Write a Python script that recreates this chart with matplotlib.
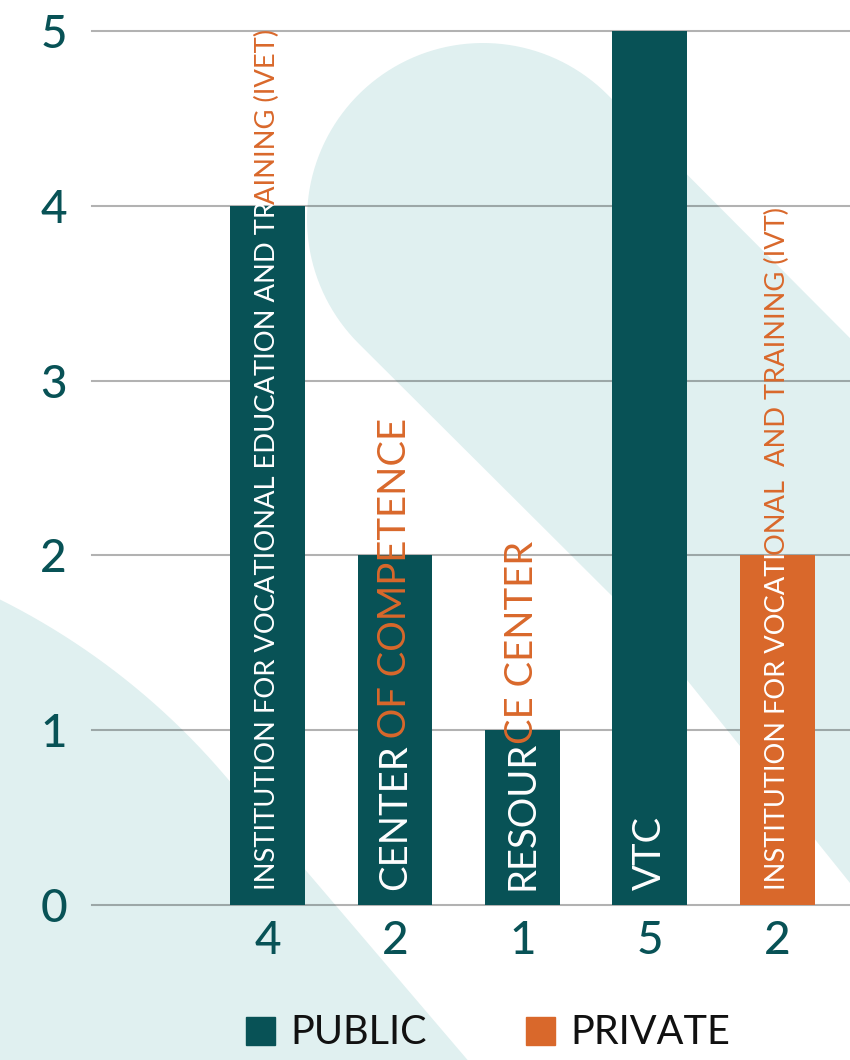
import matplotlib
matplotlib.use("agg")
import matplotlib.pyplot as plt
import numpy as np
from matplotlib.patches import Patch, Polygon

# bar labels, sector of each institution type and the counts
categories = [
    "INSTITUTION FOR VOCATIONAL EDUCATION AND TRAINING (IVET)",
    "CENTER OF COMPETENCE",
    "RESOURCE CENTER",
    "VTC",
    "INSTITUTION FOR VOCATIONAL  AND TRAINING (IVT)",
]
sectors = ["PUBLIC", "PUBLIC", "PUBLIC", "PUBLIC", "PRIVATE"]
counts = [4, 2, 1, 5, 2]
# leading characters of each label printed in white, the rest is orange
white_chars = [43, 6, 6, 3, 22]
legend_labels = ["PUBLIC", "PRIVATE"]

TEAL = "#085256"
ORANGE = "#d9682b"
BLOB = "#e0f0f0"
sector_color = {"PUBLIC": TEAL, "PRIVATE": ORANGE}

plt.rcParams["font.family"] = ["Lato", "DejaVu Sans"]

fig = plt.figure(figsize=(8.5, 10.6), dpi=100, facecolor="white")

# decorative background shapes (pixel coordinates of the canvas)
bg = fig.add_axes([0, 0, 1, 1], zorder=0)
bg.set_xlim(0, 850)
bg.set_ylim(1060, 0)
bg.axis("off")

t = np.radians(np.linspace(-45, -225, 80))
arc = np.column_stack([483 + 176 * np.cos(t), 219 + 176 * np.sin(t)])
band = np.vstack([arc, [[613, 597], [687, 680], [850, 883], [960, 1080],
                        [1300, 1080], [1300, 790]]])
bg.add_patch(Polygon(band, closed=True, color=BLOB, lw=0))

t = np.radians(np.linspace(-120, -40.5, 80))
arc = np.column_stack([-320 + 716 * np.cos(t), 1240 + 716 * np.sin(t)])
corner = np.vstack([arc, [[564, 1173], [-700, 1173]]])
bg.add_patch(Polygon(corner, closed=True, color=BLOB, lw=0))

# main chart
ax = fig.add_axes([92 / 850, 155 / 1060, 758 / 850, 874 / 1060], zorder=1)
ax.set_facecolor("none")
x = np.arange(len(counts))
ax.bar(x, counts, width=0.588, color=[sector_color[s] for s in sectors], zorder=2)
ax.set_xlim(-1.3765, 4.569)
ax.set_ylim(0, 5)

ax.set_yticks(range(6))
ax.set_xticks(x, [str(c) for c in counts])
ax.tick_params(length=0, labelsize=33, labelcolor=TEAL)
ax.tick_params(axis="y", pad=18)
ax.tick_params(axis="x", pad=11)
for lab in ax.get_xticklabels() + ax.get_yticklabels():
    lab.set_fontweight("medium")
for s in ax.spines.values():
    s.set_visible(False)
ax.grid(axis="y", color="black", alpha=0.3, lw=1.5)
ax.set_axisbelow(True)
for line in ax.get_ygridlines():
    line.set_clip_on(False)

label_sizes = [19.7, 27.5, 27.5, 27.5, 19.6]
for xi, label, n, size in zip(x, categories, white_chars, label_sizes):
    head = ax.annotate(label[:n], xy=(xi, 0), xytext=(0, 10.5),
                       textcoords="offset points", rotation=90,
                       rotation_mode="anchor", ha="left", va="center",
                       fontsize=size, color="white", zorder=4,
                       annotation_clip=False)
    tail = label[n:]
    if tail:
        ax.annotate(tail, xy=(0.5, 1), xycoords=head,
                    xytext=(0, -0.08 * size), textcoords="offset points",
                    rotation=90, rotation_mode="anchor", ha="left",
                    va="center", fontsize=size, color=ORANGE, zorder=4,
                    annotation_clip=False)

handles = [Patch(color=sector_color[s]) for s in legend_labels]
fig.legend(handles, legend_labels, ncol=2, loc="center",
           bbox_to_anchor=(0.5747, 0.0255), frameon=False, fontsize=28.5,
           handlelength=0.72, handleheight=0.72, handletextpad=0.4,
           columnspacing=2.5, labelcolor="#111111")

fig.savefig("out.png", dpi=100, facecolor="white")
plt.close(fig)
